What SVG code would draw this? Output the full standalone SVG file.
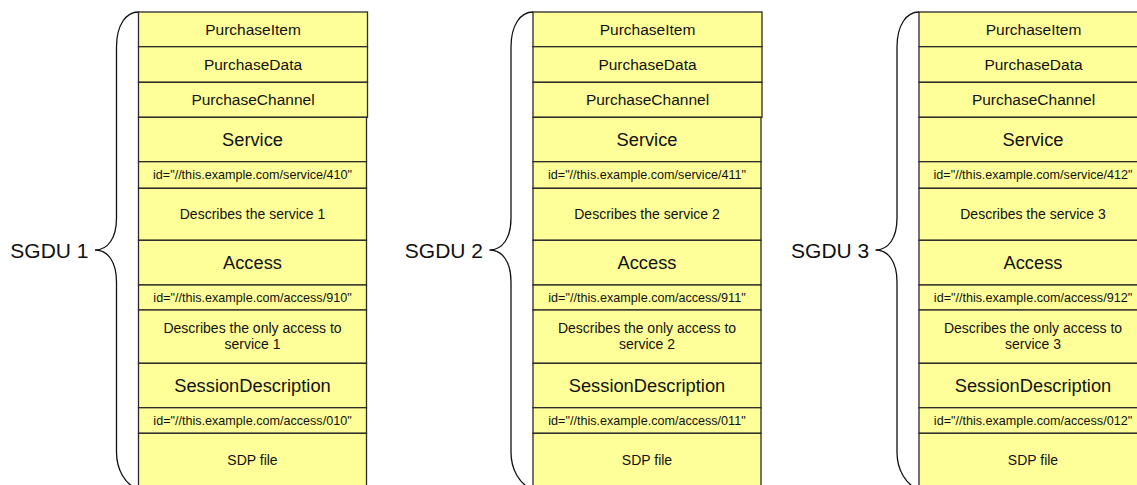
<svg xmlns="http://www.w3.org/2000/svg" width="1137" height="485" viewBox="0 0 1137 485">
<style>
.cell{fill:#FFFF99;stroke:#2a2a2a;stroke-width:1.3}
.t{font-family:"Liberation Sans",Arial,sans-serif;fill:#111;text-anchor:middle}
.p{font-size:15.5px}
.h{font-size:18.3px}
.id{font-size:12.6px}
.d{font-size:14px}
.lbl{font-family:"Liberation Sans",Arial,sans-serif;fill:#111;font-size:21px;text-anchor:end}
.brace{fill:none;stroke:#111;stroke-width:1.3}
</style>
<rect width="1137" height="485" fill="#fff"/>
<g id="sgdu1">
<g id="s1-item"><rect class="cell" x="138.5" y="12" width="229" height="34.7"/><text class="t p" x="253" y="34.7">PurchaseItem</text></g>
<g id="s1-data"><rect class="cell" x="138.5" y="46.7" width="229" height="35.6"/><text class="t p" x="253" y="70">PurchaseData</text></g>
<g id="s1-channel"><rect class="cell" x="138.5" y="82.3" width="229" height="35"/><text class="t p" x="253" y="105.3">PurchaseChannel</text></g>
<g id="s1-service"><rect class="cell" x="138.5" y="117.3" width="228" height="44.4"/><text class="t h" x="252.5" y="146">Service</text></g>
<g id="s1-service-id"><rect class="cell" x="138.5" y="161.7" width="228" height="26.6"/><text class="t id" x="252.5" y="179.4">id="//this.example.com/service/410"</text></g>
<g id="s1-service-desc"><rect class="cell" x="138.5" y="188.3" width="228" height="52"/><text class="t d" x="252.5" y="219.3">Describes the service 1</text></g>
<g id="s1-access"><rect class="cell" x="138.5" y="240.3" width="228" height="44.7"/><text class="t h" x="252.5" y="269.2">Access</text></g>
<g id="s1-access-id"><rect class="cell" x="138.5" y="285" width="228" height="25"/><text class="t id" x="252.5" y="301.8">id="//this.example.com/access/910"</text></g>
<g id="s1-access-desc"><rect class="cell" x="138.5" y="310" width="228" height="53.3"/><text class="t d" x="252.5" y="333">Describes the only access to</text><text class="t d" x="252.5" y="349.3">service 1</text></g>
<g id="s1-session"><rect class="cell" x="138.5" y="363.3" width="228" height="44.4"/><text class="t h" x="252.5" y="392.2">SessionDescription</text></g>
<g id="s1-session-id"><rect class="cell" x="138.5" y="407.7" width="228" height="25.6"/><text class="t id" x="252.5" y="424.8">id="//this.example.com/access/010"</text></g>
<g id="s1-sdp"><rect class="cell" x="138.5" y="433.3" width="228" height="56"/><text class="t d" x="252.5" y="465">SDP file</text></g>
</g>
<g id="sgdu2">
<g id="s2-item"><rect class="cell" x="533" y="12" width="229" height="34.7"/><text class="t p" x="647.5" y="34.7">PurchaseItem</text></g>
<g id="s2-data"><rect class="cell" x="533" y="46.7" width="229" height="35.6"/><text class="t p" x="647.5" y="70">PurchaseData</text></g>
<g id="s2-channel"><rect class="cell" x="533" y="82.3" width="229" height="35"/><text class="t p" x="647.5" y="105.3">PurchaseChannel</text></g>
<g id="s2-service"><rect class="cell" x="533" y="117.3" width="228" height="44.4"/><text class="t h" x="647" y="146">Service</text></g>
<g id="s2-service-id"><rect class="cell" x="533" y="161.7" width="228" height="26.6"/><text class="t id" x="647" y="179.4">id="//this.example.com/service/411"</text></g>
<g id="s2-service-desc"><rect class="cell" x="533" y="188.3" width="228" height="52"/><text class="t d" x="647" y="219.3">Describes the service 2</text></g>
<g id="s2-access"><rect class="cell" x="533" y="240.3" width="228" height="44.7"/><text class="t h" x="647" y="269.2">Access</text></g>
<g id="s2-access-id"><rect class="cell" x="533" y="285" width="228" height="25"/><text class="t id" x="647" y="301.8">id="//this.example.com/access/911"</text></g>
<g id="s2-access-desc"><rect class="cell" x="533" y="310" width="228" height="53.3"/><text class="t d" x="647" y="333">Describes the only access to</text><text class="t d" x="647" y="349.3">service 2</text></g>
<g id="s2-session"><rect class="cell" x="533" y="363.3" width="228" height="44.4"/><text class="t h" x="647" y="392.2">SessionDescription</text></g>
<g id="s2-session-id"><rect class="cell" x="533" y="407.7" width="228" height="25.6"/><text class="t id" x="647" y="424.8">id="//this.example.com/access/011"</text></g>
<g id="s2-sdp"><rect class="cell" x="533" y="433.3" width="228" height="56"/><text class="t d" x="647" y="465">SDP file</text></g>
</g>
<g id="sgdu3">
<g id="s3-item"><rect class="cell" x="919" y="12" width="229" height="34.7"/><text class="t p" x="1033.5" y="34.7">PurchaseItem</text></g>
<g id="s3-data"><rect class="cell" x="919" y="46.7" width="229" height="35.6"/><text class="t p" x="1033.5" y="70">PurchaseData</text></g>
<g id="s3-channel"><rect class="cell" x="919" y="82.3" width="229" height="35"/><text class="t p" x="1033.5" y="105.3">PurchaseChannel</text></g>
<g id="s3-service"><rect class="cell" x="919" y="117.3" width="228" height="44.4"/><text class="t h" x="1033" y="146">Service</text></g>
<g id="s3-service-id"><rect class="cell" x="919" y="161.7" width="228" height="26.6"/><text class="t id" x="1033" y="179.4">id="//this.example.com/service/412"</text></g>
<g id="s3-service-desc"><rect class="cell" x="919" y="188.3" width="228" height="52"/><text class="t d" x="1033" y="219.3">Describes the service 3</text></g>
<g id="s3-access"><rect class="cell" x="919" y="240.3" width="228" height="44.7"/><text class="t h" x="1033" y="269.2">Access</text></g>
<g id="s3-access-id"><rect class="cell" x="919" y="285" width="228" height="25"/><text class="t id" x="1033" y="301.8">id="//this.example.com/access/912"</text></g>
<g id="s3-access-desc"><rect class="cell" x="919" y="310" width="228" height="53.3"/><text class="t d" x="1033" y="333">Describes the only access to</text><text class="t d" x="1033" y="349.3">service 3</text></g>
<g id="s3-session"><rect class="cell" x="919" y="363.3" width="228" height="44.4"/><text class="t h" x="1033" y="392.2">SessionDescription</text></g>
<g id="s3-session-id"><rect class="cell" x="919" y="407.7" width="228" height="25.6"/><text class="t id" x="1033" y="424.8">id="//this.example.com/access/012"</text></g>
<g id="s3-sdp"><rect class="cell" x="919" y="433.3" width="228" height="56"/><text class="t d" x="1033" y="465">SDP file</text></g>
</g>
<g id="braces">
<path class="brace" d="M138.5,12 C126,12 116.5,25 116.5,47 V218 C116.5,238 108,250 95,250 C108,250 116.5,262 116.5,282 V452 C116.5,470 125,484 138.5,490"/>
<path class="brace" d="M533,12 C520.5,12 511,25 511,47 V218 C511,238 502.5,250 489.5,250 C502.5,250 511,262 511,282 V452 C511,470 519.5,484 533,490"/>
<path class="brace" d="M919,12 C906.5,12 897,25 897,47 V218 C897,238 888.5,250 875.5,250 C888.5,250 897,262 897,282 V452 C897,470 905.5,484 919,490"/>
</g>
<g id="labels">
<text class="lbl" x="88.5" y="257.7">SGDU 1</text>
<text class="lbl" x="483" y="257.7">SGDU 2</text>
<text class="lbl" x="869.3" y="257.7">SGDU 3</text>
</g>
</svg>
